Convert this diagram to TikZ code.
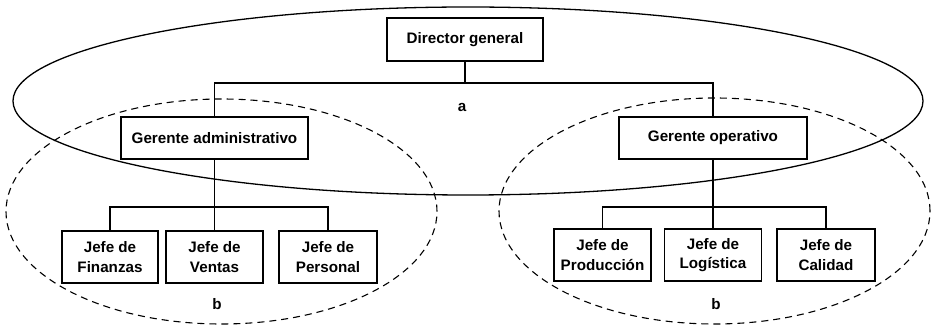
\documentclass[tikz,border=0pt]{standalone}
\usepackage{fontspec}
\setmainfont{Liberation Sans}
\begin{document}
\begin{tikzpicture}[x=1pt,y=-1pt,
  box/.style={draw, line width=1.6pt, fill=white, inner sep=0pt, align=center,
    font=\fontsize{15.2}{19.5}\selectfont\bfseries},
  conn/.style={line width=1.2pt},
  lbl/.style={font=\fontsize{15.2}{18}\selectfont\bfseries, inner sep=0pt},
  ring/.style={line width=1.3pt},
  dashring/.style={line width=1.1pt, dash pattern=on 7pt off 5pt}]
\useasboundingbox[fill=white] (0,0) rectangle (931,328);
% groups
\draw[ring] (468,101) ellipse [x radius=455pt, y radius=94pt];
\draw[dashring] (221.5,211.5) ellipse [x radius=215.5pt, y radius=112.5pt];
\draw[dashring] (714.5,211) ellipse [x radius=215.5pt, y radius=113pt];
% nodes
\node[box, minimum width=156pt, minimum height=43pt] (dg) at (465,39.5) {Director general};
\node[box, minimum width=187pt, minimum height=42pt] (ga) at (214.5,138) {Gerente administrativo};
\node[box, minimum width=188pt, minimum height=42pt] (go) at (713,138) {Gerente operativo};
\node[box, minimum width=96pt, minimum height=52pt] (fin) at (110,257) {Jefe de\\Finanzas};
\node[box, minimum width=97pt, minimum height=52pt] (ven) at (214.5,257) {Jefe de\\Ventas};
\node[box, minimum width=98pt, minimum height=52pt] (per) at (328,257) {Jefe de\\Personal};
\node[box, minimum width=97pt, minimum height=52pt] (pro) at (602.5,255) {Jefe de\\Producción};
\node[box, minimum width=97pt, minimum height=52pt] (log) at (713,255) {Jefe de\\Logística};
\node[box, minimum width=98pt, minimum height=52pt] (cal) at (826,255) {Jefe de\\Calidad};
% labels
\node[lbl] (la) at (462,107) {a};
\node[lbl] (lb1) at (217,304) {b};
\node[lbl] (lb2) at (716,304) {b};
% connectors
\coordinate (top) at (465,83);
\draw[conn] (dg.south) -- (top);
\draw[conn] (ga.north) |- (top) -| (go.north);
\draw[conn] (ga.south) -- (ven.north);
\draw[conn] (fin.north) |- (214.5,207) -| (per.north);
\draw[conn] (go.south) -- (log.north);
\draw[conn] (pro.north) |- (713,207) -| (cal.north);
% redraw boxes on top of lines
\end{tikzpicture}
\end{document}
